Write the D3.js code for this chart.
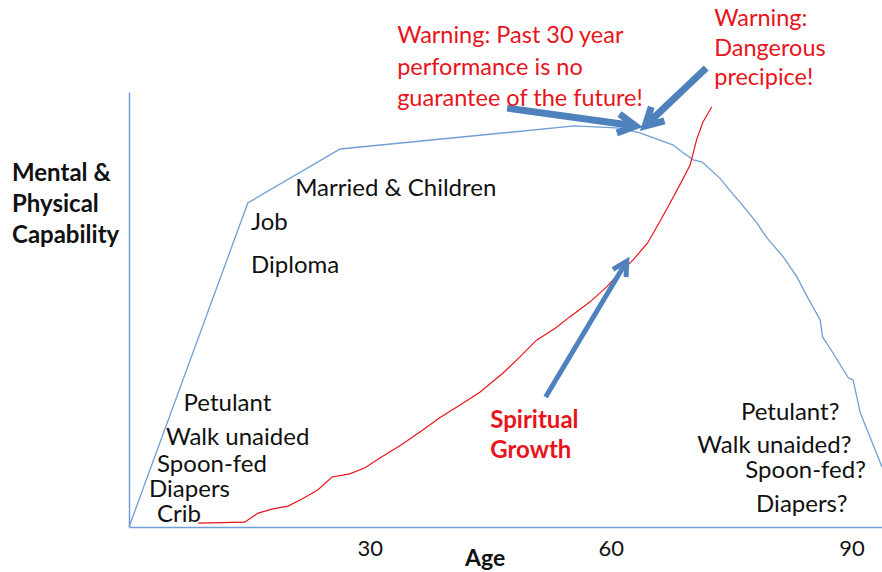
<!DOCTYPE html>
<html lang="en">
  <head>
    <meta charset="utf-8">
    <title>Capability vs Age</title>
    <script type="text/javascript" src="https://d3js.org/d3.v7.min.js"></script>
    <style>
    body {
      margin:0;
      background-color:#ffffff;
    }
    text {
      font-family:Lato, "Open Sans", sans-serif;
    }
    </style>
  </head>
  <body>
    <div id="chart"></div>
    <script type="text/javascript">
// data (age in years, capability 0-100)
const xTicks = [30, 60, 90];
const capabilityAge = [0, 14.8, 26.3, 55.5, 61.2, 63.65, 67.8, 68.9, 70.3, 71.4, 73.6, 74.6, 76.1, 78.2, 79.5, 81.5, 83.2, 84.5, 86.1, 86.4, 87.7, 89.6, 90.2, 91.1, 92.3, 93.8];
const capabilityVal = [0, 74.5, 86.9, 92.2, 91.7, 90.6, 87.8, 86.2, 84.4, 83.9, 80.2, 77.9, 74.7, 69.9, 66.4, 62.1, 57.5, 52.9, 47.6, 43.7, 40.0, 34.3, 33.8, 26.2, 20.7, 13.8];
const spiritAge = [8.6, 14.4, 16.1, 17.8, 19.8, 21.5, 23.5, 25.3, 27.5, 29.4, 31.3, 33.7, 36.2, 38.7, 41.2, 43.7, 46.6, 48.7, 50.8, 53.1, 54.9, 57.4, 59.5, 61.1, 62.8, 64.6, 66.1, 67.4, 68.6, 69.9, 70.7, 71.5, 72.6];
const spiritVal = [0.9, 1.1, 3.2, 4.1, 4.8, 6.4, 8.5, 11.5, 12.2, 13.6, 15.9, 18.6, 21.8, 25.1, 28.0, 31.0, 35.4, 39.1, 43.0, 45.7, 48.3, 51.7, 55.2, 58.4, 61.4, 65.3, 70.1, 74.5, 78.6, 83.2, 89.0, 93.1, 96.6];
// arrows: [fromAge, fromVal, toAge, toVal]
const arrows = [[47.1, 96.3, 63.1, 92.2], [71.9, 105.5, 64.3, 92.2], [51.9, 29.9, 62.0, 61.1]];
const stageLabels = ["Married & Children", "Job", "Diploma", "Petulant", "Walk unaided", "Spoon-fed", "Diapers", "Crib"];
const stageAt = [[20.7, 76.1], [15.2, 68.3], [15.2, 58.4], [6.8, 26.7], [4.6, 18.9], [3.5, 12.6], [2.5, 6.9], [3.5, 1.1]];
const oldLabels = ["Petulant?", "Walk unaided?", "Spoon-fed?", "Diapers?"];
const oldAt = [[88.5, 24.6], [90.0, 17.0], [91.8, 11.3], [89.5, 3.4]];
const warn1 = ["Warning: Past 30 year", "performance is no", "guarantee of the future!"];
const warn2 = ["Warning:", "Dangerous", "precipice!"];
const spiritLabel = ["Spiritual", "Growth"];
const yTitle = ["Mental &", "Physical", "Capability"];

const width = 882, height = 572;
const blue = "#6f9fd6", red = "#e8141c", arrowBlue = "#4f81bd";

const svg = d3.select("#chart").append("svg").attr("width", width).attr("height", height);
const x = d3.scaleLinear().domain([0, 93.8]).range([129, 882]);
const y = d3.scaleLinear().domain([0, 100]).range([527, 92]);

// axes
svg.append("g").attr("transform", `translate(0,${y(0)})`)
  .call(d3.axisBottom(x).tickValues(xTicks).tickSize(0).tickPadding(13))
  .call(g => g.select(".domain").attr("stroke", blue).attr("stroke-width", 1.5))
  .call(g => g.selectAll("text").attr("font-size", "22px").attr("fill", "#111").attr("font-family", "Lato"));
svg.append("g").attr("transform", `translate(${x(0)},0)`)
  .call(d3.axisLeft(y).tickValues([]).tickSize(0))
  .call(g => g.select(".domain").attr("stroke", blue).attr("stroke-width", 1.5));

svg.append("text").attr("x", 465).attr("y", 566).attr("font-size", "23px").attr("font-weight", "bold")
  .attr("fill", "#111").text("Age");
svg.append("g").selectAll("text").data(yTitle).join("text")
  .attr("x", 12).attr("y", (d, i) => 181 + i * 31)
  .attr("font-size", "24px").attr("font-weight", "bold").attr("fill", "#111").text(d => d);

// curves
const line = d3.line().x(d => x(d[0])).y(d => y(d[1]));
svg.append("path").datum(d3.zip(capabilityAge, capabilityVal))
  .attr("fill", "none").attr("stroke", blue).attr("stroke-width", 1.3).attr("d", line);
svg.append("path").datum(d3.zip(spiritAge, spiritVal))
  .attr("fill", "none").attr("stroke", red).attr("stroke-width", 1.2).attr("d", line);

// arrows
arrows.forEach((a, i) => {
  const x1 = x(a[0]), y1 = y(a[1]), x2 = x(a[2]), y2 = y(a[3]);
  const ang = Math.atan2(y2 - y1, x2 - x1);
  const w = i == 2 ? 5 : 7, hl = i == 2 ? 16 : 20;
  svg.append("line").attr("x1", x1).attr("y1", y1).attr("x2", x2 - Math.cos(ang) * 3).attr("y2", y2 - Math.sin(ang) * 3)
    .attr("stroke", arrowBlue).attr("stroke-width", w);
  const head = [-0.5, 0, 0.5].map(k => k == 0 ? [x2, y2] :
    [x2 - hl * Math.cos(ang + k), y2 - hl * Math.sin(ang + k)]);
  svg.append("path").attr("d", d3.line()(head)).attr("fill", "none")
    .attr("stroke", arrowBlue).attr("stroke-width", w).attr("stroke-linejoin", "miter").attr("stroke-linecap", "butt");
});

// labels
svg.append("g").selectAll("text").data(stageLabels).join("text")
  .attr("x", (d, i) => x(stageAt[i][0])).attr("y", (d, i) => y(stageAt[i][1]))
  .attr("font-size", "24px").attr("fill", "#111").text(d => d);
svg.append("g").selectAll("text").data(oldLabels).join("text")
  .attr("x", (d, i) => x(oldAt[i][0])).attr("y", (d, i) => y(oldAt[i][1]))
  .attr("text-anchor", "end").attr("font-size", "24px").attr("fill", "#111").text(d => d);
svg.append("g").selectAll("text").data(warn1).join("text")
  .attr("x", x(33.4)).attr("y", (d, i) => 43 + i * 31.5)
  .attr("font-size", "23.5px").attr("fill", red).text(d => d);
svg.append("g").selectAll("text").data(warn2).join("text")
  .attr("x", x(72.9)).attr("y", (d, i) => 26 + i * 29.5)
  .attr("font-size", "23.5px").attr("fill", red).text(d => d);
svg.append("g").selectAll("text").data(spiritLabel).join("text")
  .attr("x", x(45.0)).attr("y", (d, i) => y(22.8) + i * 30)
  .attr("font-size", "24px").attr("font-weight", "bold").attr("fill", red).text(d => d);
    </script>
  </body>
</html>
